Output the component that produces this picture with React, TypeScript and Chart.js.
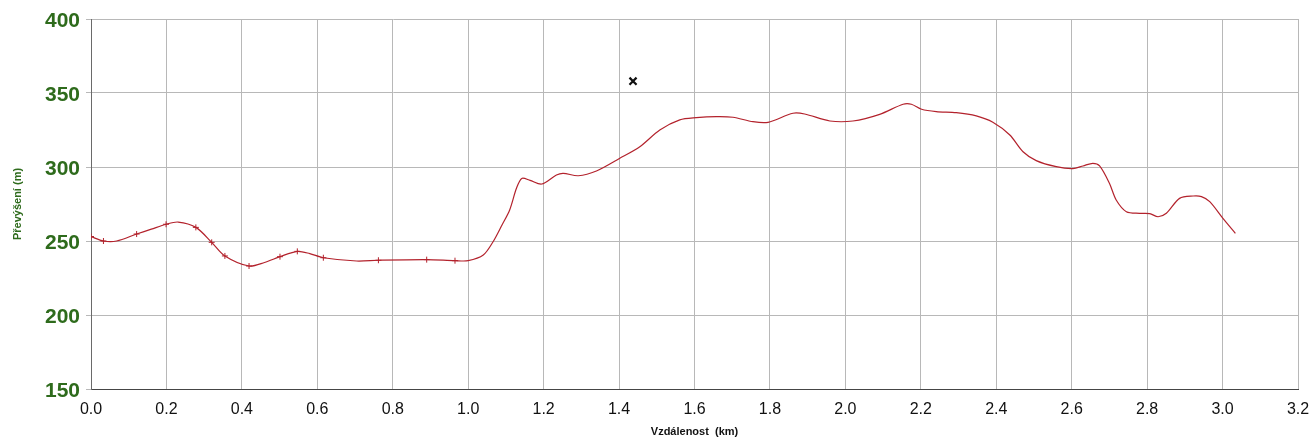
import React, { useEffect, useRef } from "react";
import { Chart, registerables } from "chart.js";

Chart.register(...registerables);

const distanceKm = [
  0.0, 0.033, 0.068, 0.121, 0.16, 0.199, 0.231, 0.278, 0.32, 0.355, 0.419, 0.46, 0.501, 0.547, 0.58, 0.616,
  0.704, 0.762, 0.89, 0.965, 1.0, 1.04, 1.066, 1.09, 1.11, 1.128, 1.142, 1.164, 1.195, 1.234, 1.252, 1.292,
  1.34, 1.402, 1.455, 1.508, 1.561, 1.605, 1.658, 1.702, 1.755, 1.795, 1.861, 1.892, 1.959, 2.02, 2.091,
  2.153, 2.175, 2.202, 2.241, 2.294, 2.347, 2.391, 2.436, 2.471, 2.506, 2.559, 2.603, 2.63, 2.656, 2.674,
  2.7, 2.718, 2.745, 2.78, 2.807, 2.829, 2.851, 2.886, 2.922, 2.944, 2.966, 3.001, 3.034,
];
const elevationM = [
  253, 250, 250, 254.7, 258, 261.3, 262.8, 259.2, 249.1, 239.9, 233.1, 235.5, 239.4, 243, 241.5, 238.7,
  236.5, 237, 237.4, 236.7, 236.7, 240.5, 249.5, 261, 271, 285.6, 292.3, 291, 288.5, 294.6, 295.7, 294.1,
  297.3, 305.9, 313.7, 325, 331.8, 333.3, 334, 333.6, 330.6, 330.2, 336.3, 335.8, 331.1, 331.1, 335.6,
  342.4, 342.4, 339, 337.4, 336.7, 334.5, 330.2, 321.6, 310.3, 304.3, 300.2, 298.9, 300.7, 302.5, 300.7,
  289, 277.7, 269.8, 268.7, 268.5, 266.4, 268.7, 278.8, 280.4, 280, 276.6, 265.3, 255.2,
];
// waypoints marked with small "+" on the profile
const waypointKm = [0.0, 0.033, 0.121, 0.199, 0.278, 0.32, 0.355, 0.419, 0.501, 0.547, 0.616, 0.762, 0.89, 0.965];
// black cross marker
const crossKm = [1.437];
const crossM = [358];

const xTicks = [0, 0.2, 0.4, 0.6, 0.8, 1.0, 1.2, 1.4, 1.6, 1.8, 2.0, 2.2, 2.4, 2.6, 2.8, 3.0, 3.2];
const yTicks = [150, 200, 250, 300, 350, 400];

const GREEN = "#2e6b1c";
const RED = "#b3222c";

export default function App() {
  const ref = useRef<HTMLCanvasElement | null>(null);

  useEffect(() => {
    if (!ref.current) return;
    const profile = distanceKm.map((x, i) => ({ x, y: elevationM[i] }));
    const cross = crossKm.map((x, i) => ({ x, y: crossM[i] }));
    const chart = new Chart(ref.current, {
      type: "line",
      data: {
        datasets: [
          {
            data: profile,
            borderColor: RED,
            backgroundColor: RED,
            borderWidth: 1.2,
            tension: 0.3,
            pointStyle: "cross",
            pointRadius: (ctx: any) => (waypointKm.includes(distanceKm[ctx.dataIndex]) ? 3 : 0),
            pointBorderWidth: 1,
            pointBorderColor: RED,
          },
          {
            type: "scatter",
            data: cross,
            pointStyle: "crossRot",
            pointRadius: 5,
            pointBorderWidth: 2.2,
            borderColor: "#111",
            backgroundColor: "#111",
            showLine: false,
          } as any,
        ],
      },
      options: {
        responsive: false,
        animation: false,
        layout: { padding: { left: 0, right: 11, top: 19, bottom: 0 } },
        plugins: { legend: { display: false }, tooltip: { enabled: false } },
        scales: {
          x: {
            type: "linear",
            min: 0,
            max: 3.2,
            afterBuildTicks: (s: any) => {
              s.ticks = xTicks.map((v) => ({ value: v }));
            },
            afterFit: (s: any) => {
              s.height = 54;
              s.paddingLeft = 0;
              s.paddingRight = 0;
            },
            ticks: {
              color: "#111",
              font: { family: "Arial, 'Liberation Sans', sans-serif", size: 16 },
              padding: 11,
              maxRotation: 0,
              autoSkip: false,
              callback: (v: any) => Number(v).toFixed(1),
            },
            grid: { color: "#b8b8b8", lineWidth: 1, drawTicks: false },
            border: { color: "#454545", width: 1 },
            title: {
              display: true,
              text: "Vzdálenost  (km)",
              color: "#111",
              font: { family: "Arial, 'Liberation Sans', sans-serif", size: 11, weight: "bold" },
              padding: { top: 0, bottom: 4 },
            },
          },
          y: {
            type: "linear",
            min: 150,
            max: 400,
            afterBuildTicks: (s: any) => {
              s.ticks = yTicks.map((v) => ({ value: v }));
            },
            afterFit: (s: any) => {
              s.width = 91;
              s.paddingTop = 0;
              s.paddingBottom = 0;
            },
            ticks: {
              color: GREEN,
              font: { family: "Arial, 'Liberation Sans', sans-serif", size: 21, weight: "bold" },
              padding: 6,
              labelOffset: 2,
            },
            grid: { color: "#b8b8b8", lineWidth: 1, drawTicks: true, tickLength: 5 },
            border: { color: "#6a6a6a", width: 1 },
            title: {
              display: true,
              text: "Převýšení (m)",
              color: GREEN,
              font: { family: "Arial, 'Liberation Sans', sans-serif", size: 11, weight: "bold" },
              padding: { top: 11, bottom: 0 },
            },
          },
        },
      },
    });
    return () => chart.destroy();
  }, []);

  return (
    <div style={{ position: "absolute", left: 0, top: 0, width: 1309, height: 443, background: "#fff" }}>
      <canvas ref={ref} width={1309} height={443} />
    </div>
  );
}
